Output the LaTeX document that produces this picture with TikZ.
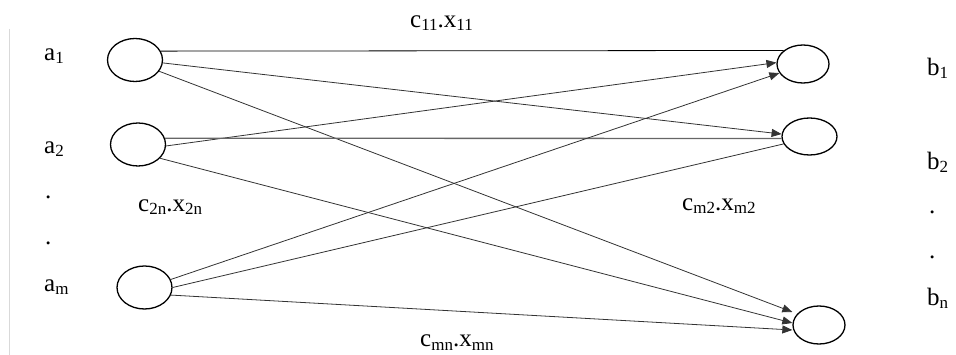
\documentclass[tikz,border=0pt]{standalone}
\usepackage{fontspec}
\setmainfont{Liberation Serif}
\usetikzlibrary{shapes.geometric,arrows.meta}
\newcommand{\lowidx}[1]{\raisebox{-3pt}{\fontsize{17}{20}\selectfont #1}}
\begin{document}
\begin{tikzpicture}[x=1pt,y=-1pt]
		\tikzstyle{every node}+=[inner sep=0pt, font=\fontsize{25}{30}\selectfont]
		\tikzstyle{anode}=[draw, ellipse, line width=1.3pt, minimum width=55pt, minimum height=43pt]
		\tikzstyle{bnode}=[draw, ellipse, line width=1.3pt, minimum width=52pt, minimum height=38pt]
		\tikzstyle{link}=[line width=0.8pt, black!80]
		\tikzstyle{arc}=[link, -{Triangle[length=10pt,width=8pt]}]
		\useasboundingbox (0,0) rectangle (956,355);
		\draw [black!15, line width=0.8pt] (9,29) -- (9,355);
		\node [anode] (a1) at (135,60) {};
		\node [anode] (a2) at (138,144.5) {};
		\node [anode] (am) at (144.5,287.5) {};
		\node [bnode] (b1) at (803,64) {};
		\node [bnode, minimum width=55pt, minimum height=37pt] (b2) at (809.5,136.5) {};
		\node [bnode] (bn) at (819,325) {};
		\node [anchor=base west] (la1) at (44,61) {a\lowidx{1}};
		\node [anchor=base west] (la2) at (44,154) {a\lowidx{2}};
		\node [anchor=base west] (ld1) at (45,199) {.};
		\node [anchor=base west] (ld2) at (45,245) {.};
		\node [anchor=base west] (lam) at (44,292) {a\lowidx{m}};
		\node [anchor=base west] (lb1) at (927,76) {b\lowidx{1}};
		\node [anchor=base west] (lb2) at (927,170) {b\lowidx{2}};
		\node [anchor=base west] (le1) at (929,214) {.};
		\node [anchor=base west] (le2) at (929,259) {.};
		\node [anchor=base west] (lbn) at (927,306) {b\lowidx{n}};
		\node [anchor=base west] (c11) at (410,28) {c\lowidx{11}.x\lowidx{11}};
		\node [anchor=base west] (c2n) at (138,212) {c\lowidx{2n}.x\lowidx{2n}};
		\node [anchor=base west] (cm2) at (682,211) {c\lowidx{m2}.x\lowidx{m2}};
		\node [anchor=base west] (cmn) at (420,347) {c\lowidx{mn}.x\lowidx{mn}};
		\draw [link, black] (a1.19) -- (b1.145);
		\draw [arc] (a1.-6) -- (b2.175);
		\draw [arc] (a1.-25) -- ([yshift=13pt]bn.west);
		\draw [arc] (a2.-3) -- (b1.177);
		\draw [link, line width=1.3pt, black!60] (a2.13) -- (b2.184);
		\draw [arc] (a2.-32) -- ([yshift=2pt]bn.west);
		\draw [arc] (am.17) -- (b1.201);
		\draw [link] (am.0) -- (b2.196);
		\draw [arc] (am.-16) -- ([yshift=-5pt]bn.west);
	\end{tikzpicture}
\end{document}
